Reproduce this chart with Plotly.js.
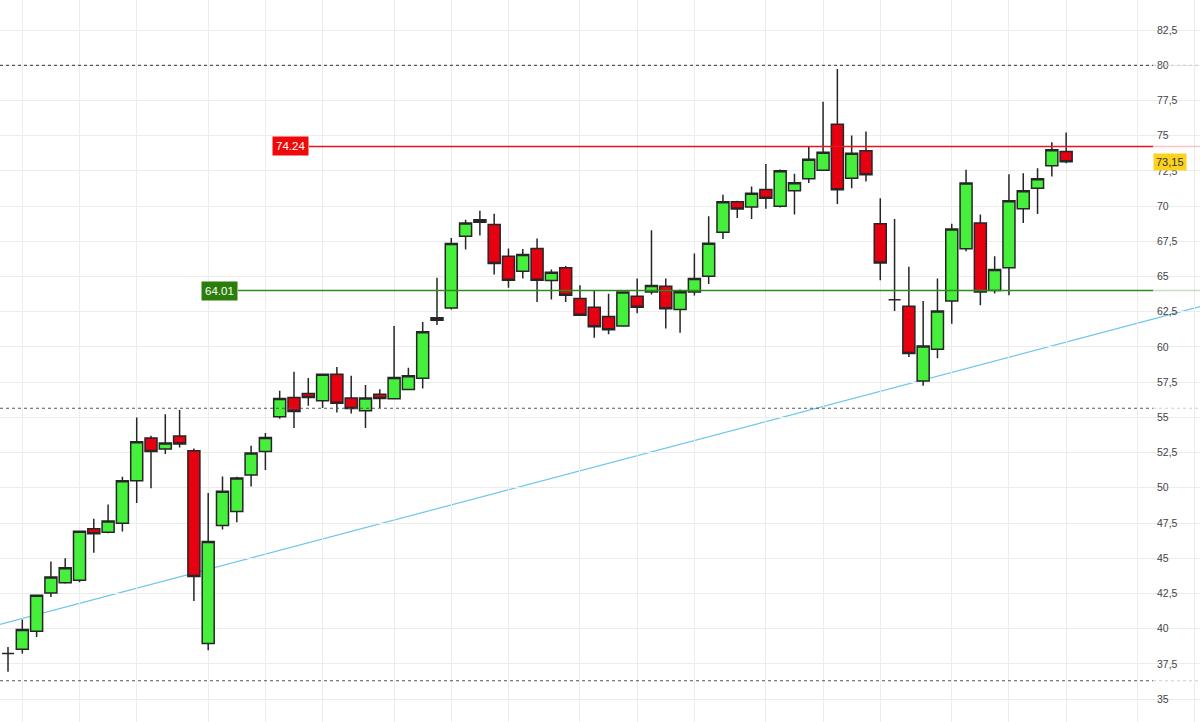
<!DOCTYPE html>
<html>
<head>
<meta charset="utf-8">
<script src="https://cdn.plot.ly/plotly-3.0.1.min.js"></script>
<style>
  html, body { margin: 0; padding: 0; background: #fff; }
  #chart { width: 1200px; height: 722px; }
</style>
</head>
<body>
<div id="chart"></div>
<script>
// weekly candles, oldest first
const opens = [
    38.24, 38.53, 39.82, 42.53, 43.26, 43.43, 47.09, 46.85, 47.49, 50.51,
    53.53, 52.75, 53.68, 52.63, 38.94, 47.32, 48.31, 50.91, 52.58, 55.04,
    56.41, 56.69, 56.18, 58.07, 56.37, 55.47, 56.65, 56.32, 56.98, 57.78,
    61.89, 62.76, 67.86, 68.85, 68.69, 66.44, 65.38, 66.99, 64.72, 65.62,
    63.45, 62.83, 62.17, 61.49, 63.61, 63.90, 64.32, 62.67, 63.90, 65.03,
    68.14, 70.31, 69.94, 71.19, 70.00, 71.10, 71.95, 72.55, 75.81, 71.99,
    73.93, 68.76, 63.35, 62.90, 57.59, 59.84, 63.26, 66.97, 68.80, 64.02,
    65.62, 69.82, 71.28, 72.87, 73.88
];
const highs = [
    38.70, 40.64, 42.40, 44.77, 45.00, 46.95, 47.80, 48.81, 50.79, 55.00,
    53.70, 55.23, 55.52, 52.80, 49.64, 50.81, 50.79, 52.99, 53.89, 56.90,
    58.25, 57.80, 58.07, 58.58, 57.95, 57.30, 57.00, 61.49, 58.53, 61.77,
    64.91, 67.74, 69.04, 69.68, 69.47, 66.99, 66.96, 67.70, 65.50, 65.75,
    64.39, 63.97, 63.78, 63.95, 64.86, 68.29, 64.86, 64.09, 66.63, 69.28,
    70.81, 70.38, 71.40, 73.00, 72.60, 72.30, 74.23, 77.42, 79.74, 75.01,
    75.30, 70.57, 69.09, 65.69, 63.26, 64.86, 68.76, 72.58, 69.40, 66.44,
    72.27, 72.34, 72.70, 74.54, 75.23
];
const lows = [
    36.93, 38.24, 39.41, 42.25, 43.19, 43.30, 45.39, 46.78, 46.90, 48.93,
    49.96, 52.40, 52.87, 41.96, 38.47, 47.04, 47.56, 50.10, 51.27, 54.90,
    54.24, 55.82, 55.66, 55.35, 55.28, 54.24, 55.66, 56.30, 56.93, 57.05,
    61.56, 62.67, 66.92, 67.91, 65.15, 64.20, 64.86, 63.20, 63.38, 63.20,
    62.20, 60.66, 60.90, 61.45, 62.39, 63.73, 61.32, 61.01, 63.66, 64.48,
    67.67, 69.16, 69.09, 69.82, 69.90, 69.40, 71.64, 72.55, 70.15, 71.28,
    71.76, 64.74, 62.55, 59.29, 57.24, 59.20, 61.65, 66.80, 62.97, 63.80,
    63.68, 68.80, 69.44, 72.11, 73.05
];
const closes = [
    38.24, 39.94, 42.37, 43.66, 44.33, 46.92, 46.73, 47.65, 50.51, 53.27,
    52.58, 53.18, 53.11, 43.71, 46.19, 49.75, 50.70, 52.47, 53.58, 56.34,
    55.42, 56.41, 58.07, 56.01, 55.63, 56.37, 56.34, 57.83, 57.95, 61.08,
    62.07, 67.34, 68.80, 69.04, 65.93, 64.74, 66.56, 64.74, 65.31, 63.68,
    62.25, 61.44, 61.22, 63.90, 62.83, 64.37, 62.71, 63.92, 64.86, 67.37,
    70.31, 69.79, 70.91, 70.57, 72.51, 71.67, 73.34, 73.83, 71.17, 73.76,
    72.23, 65.97, 63.35, 59.53, 60.07, 62.55, 68.38, 71.64, 63.90, 65.50,
    70.38, 71.10, 71.95, 74.00, 73.15
];
// week numbers where a new month starts (vertical grid)
const monthStarts = [1, 5, 9, 14, 18, 22, 27, 31, 35, 40, 44, 48, 53, 57, 61, 66, 70, 74, 79, 83];

// drawn levels
const resistance = 74.24;
const support = 64.01;
const dashedLevels = [80, 55.65, 36.3];
const lastPrice = 73.15;
// trend line: value at first week and at last week
const trendWeeks = [0, 74];
const trendValues = [40.45, 60.35];

const xRange = [-0.56, 83.36];
const yRange = [33.37, 84.64];
const axisPos = 1153 / 1200;
const axisWeek = xRange[0] + axisPos * (xRange[1] - xRange[0]);

const weeks = opens.map((v, i) => i);

const trace = {
    type: 'candlestick',
    x: weeks,
    open: opens,
    high: highs,
    low: lows,
    close: closes,
    whiskerwidth: 0,
    increasing: { fillcolor: '#45ef3c', line: { color: '#262626', width: 1.5 } },
    decreasing: { fillcolor: '#e60010', line: { color: '#262626', width: 1.5 } },
    hoverinfo: 'skip'
};

function levelLine(y, x0, color, fade, width, dash) {
    return [
        { type: 'line', xref: 'x', yref: 'y', x0: x0, x1: axisWeek, y0: y, y1: y,
          line: { color: color, width: width, dash: dash } },
        { type: 'line', xref: 'x', yref: 'y', x0: axisWeek, x1: xRange[1], y0: y, y1: y,
          line: { color: fade, width: width, dash: dash } }
    ];
}

let shapes = [];
for (const lv of dashedLevels) {
    shapes = shapes.concat(levelLine(lv, xRange[0], '#555', '#d0d0d0', 1.2, '3px,3px'));
}
shapes = shapes.concat(levelLine(resistance, 21.05, '#e8141e', '#f8c4c6', 1.5, 'solid'));
shapes = shapes.concat(levelLine(support, 16.08, '#2f8a1c', '#c4dfbf', 1.5, 'solid'));

const slope = (trendValues[1] - trendValues[0]) / (trendWeeks[1] - trendWeeks[0]);
shapes.push({
    type: 'line', xref: 'x', yref: 'y',
    x0: xRange[0], x1: xRange[1],
    y0: trendValues[0] + slope * (xRange[0] - trendWeeks[0]),
    y1: trendValues[0] + slope * (xRange[1] - trendWeeks[0]),
    line: { color: '#6cc6ee', width: 1.2 },
    layer: 'below'
});

const annotations = [
    { x: 21.05, y: resistance, xref: 'x', yref: 'y', xanchor: 'right', yanchor: 'middle',
      text: resistance.toFixed(2), showarrow: false, bgcolor: '#ee0a0a', borderpad: 3,
      font: { color: '#fff', size: 11.5 } },
    { x: 16.08, y: support, xref: 'x', yref: 'y', xanchor: 'right', yanchor: 'middle',
      text: support.toFixed(2), showarrow: false, bgcolor: '#2b7d0c', borderpad: 3,
      font: { color: '#fff', size: 11.5 } },
    { x: axisPos, y: lastPrice, xref: 'paper', yref: 'y', xanchor: 'left', yanchor: 'middle',
      text: lastPrice.toFixed(2).replace('.', ','), showarrow: false, bgcolor: '#fbd21e',
      borderpad: 2, font: { color: '#333', size: 11 } }
];

const layout = {
    width: 1200,
    height: 722,
    margin: { l: 0, r: 0, t: 0, b: 0 },
    paper_bgcolor: '#fff',
    plot_bgcolor: '#fff',
    separators: ',.',
    showlegend: false,
    hovermode: false,
    boxgap: 0.16,
    boxgroupgap: 0,
    font: { family: 'Liberation Sans, Arial, sans-serif', size: 10, color: '#444' },
    xaxis: {
        range: xRange,
        tickmode: 'array',
        tickvals: monthStarts,
        showticklabels: false,
        showgrid: true,
        gridcolor: '#ececec',
        zeroline: false,
        showline: false,
        rangeslider: { visible: false },
        fixedrange: true
    },
    yaxis: {
        range: yRange,
        tick0: 35,
        dtick: 2.5,
        side: 'right',
        anchor: 'free',
        position: axisPos,
        showgrid: true,
        gridcolor: '#ececec',
        zeroline: false,
        showline: false,
        ticks: '',
        ticklabelstandoff: 3,
        tickfont: { size: 10.5, color: '#444' },
        fixedrange: true
    },
    shapes: shapes,
    annotations: annotations
};

Plotly.newPlot('chart', [trace], layout, { displayModeBar: false, staticPlot: true });
</script>
</body>
</html>
